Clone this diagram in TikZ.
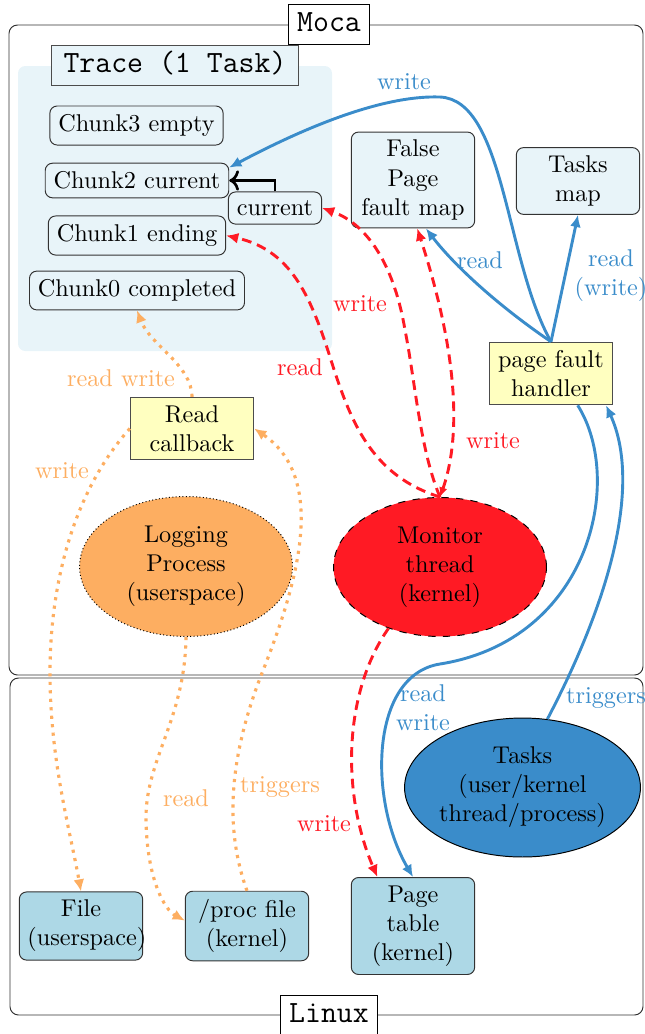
\documentclass[tikz,border=0pt]{standalone}
\usepackage{fontspec}
\usetikzlibrary{arrows.meta,shapes.geometric}
\definecolor{tracebg}{RGB}{232,244,249}
\definecolor{fileblue}{RGB}{173,216,230}
\definecolor{cbyellow}{RGB}{255,255,192}
\definecolor{logorange}{RGB}{253,174,97}
\definecolor{monred}{RGB}{255,26,36}
\definecolor{taskblue}{RGB}{58,140,202}
\begin{document}
\begin{tikzpicture}[x=0.41237pt,y=-0.41237pt,
  chunk/.style={draw=black!80, fill=tracebg, rounded corners=3pt, inner sep=3.5pt},
  infobox/.style={draw=black!80, fill=tracebg, rounded corners=3pt, text width=44.2pt, align=center},
  yellowbox/.style={draw=black!70, fill=cbyellow, text width=44.2pt, align=center},
  kbox/.style={draw=black!80, fill=fileblue, rounded corners=3pt, text width=44.2pt, align=center},
  tag/.style={draw=black, fill=white, font=\fontsize{12.75}{15}\selectfont\ttfamily, text height=9pt, text depth=2.5pt, inner ysep=2.5pt, inner xsep=3.5pt},
  ell/.style={ellipse, align=center, inner sep=0pt},
  tipp/.style={-{Latex[length=5pt,width=4.5pt]}},
  blueline/.style={draw=taskblue, line width=1.2pt, tipp},
  redline/.style={draw=monred, line width=1.2pt, dash pattern=on 4pt off 2.5pt, tipp},
  orangeline/.style={draw=logorange, line width=1.3pt, dash pattern=on 1.3pt off 2.2pt, tipp},
  bluelbl/.style={text=taskblue, inner sep=1pt},
  redlbl/.style={text=monred, inner sep=1pt},
  orangelbl/.style={text=logorange, inner sep=1pt},
  frame/.style={draw=black!80, rounded corners=3.5pt}
]
\useasboundingbox (0,0) rectangle (645,1034);
\begin{scope}
\clip (0,0) rectangle (645,1034);
% outer frames
\draw[frame] (9,25) rectangle (643,675);
\draw[frame] (10,678) rectangle (643,1015);
\end{scope}
% trace region
\fill[tracebg, rounded corners=3pt] (18,66) rectangle (332,351);

% frame labels
\node[tag] (moca) at (329,24) {Moca};
\node[tag] (linux) at (329,1015) {Linux};
\node[tag, fill=tracebg, draw=black!70, inner xsep=5pt] (trace) at (175,65) {Trace (1 Task)};

% trace chunks
\node[chunk] (chunk3) at (136.5,125.5) {Chunk3 empty};
\node[chunk] (chunk2) at (137,180.5) {Chunk2 current};
\node[chunk] (cur) at (275,208) {current};
\node[chunk] (chunk1) at (137,235.5) {Chunk1 ending};
\node[chunk] (chunk0) at (137,290.5) {Chunk0 completed};

% maps and handlers
\node[infobox] (fpfm) at (413,180) {False Page fault map};
\node[infobox] (tmap) at (578,181) {Tasks map};
\node[yellowbox] (pfh) at (551,373.5) {page fault handler};
\node[yellowbox] (rcb) at (192,428.5) {Read callback};

% ellipses
\node[ell, fill=logorange, draw=black, densely dotted, minimum width=87.8pt, minimum height=57.7pt] (log) at (186,566.5) {Logging\\Process\\(userspace)};
\node[ell, fill=monred, draw=black, dashed, minimum width=87.8pt, minimum height=57.3pt] (mon) at (440,567) {Monitor\\thread\\(kernel)};
\node[ell, fill=taskblue, draw=black, minimum width=95.3pt, minimum height=57.3pt] (tasks) at (522.5,787.5) {Tasks\\(user/kernel\\thread/process)};

% linux boxes
\node[kbox] (file) at (81,926) {File (userspace)};
\node[kbox] (proc) at (247,926) {/proc file (kernel)};
\node[kbox] (ptab) at (413,926) {Page table (kernel)};

% black pointer
\draw[line width=1.1pt, ->] (cur.north) |- (chunk2.east);

% blue connectors
\draw[blueline] (pfh.north) .. controls (505,260) and (505,100) .. (440,97) .. controls (380,95) and (300,130) .. (chunk2.8);
\draw[blueline] (pfh.north) .. controls (490,300) and (450,260) .. (fpfm.-75);
\draw[blueline] (pfh.north) -- (tmap.south);
\draw[blueline] (pfh.-50) .. controls (625,480) and (590,640) .. (440,664) .. controls (370,675) and (368,800) .. (ptab.north);
\draw[blueline] (tasks.70) .. controls (615,590) and (640,480) .. (pfh.-30);

% red connectors
\draw[redline] (mon.north) .. controls (420,450) and (415,380) .. (405,330) .. controls (395,270) and (370,225) .. (cur.east);
\draw[redline] (mon.north) .. controls (370,475) and (350,420) .. (330,357) .. controls (310,294) and (290,250) .. (chunk1.east);
\draw[redline, {Latex[length=4pt,width=3.5pt]}-{Latex[length=5pt,width=4.5pt]}] (mon.north) .. controls (460,440) and (460,360) .. (fpfm.-85);
\draw[redline] (mon.-130) .. controls (345,690) and (340,790) .. (ptab.126);

% orange connectors
\draw[orangeline] (rcb.north) .. controls (192,365) and (150,345) .. (chunk0.south);
\draw[orangeline] (rcb.west) .. controls (75,490) and (50,580) .. (50,673) .. controls (50,760) and (70,830) .. (file.north);
\draw[orangeline] (log.south) .. controls (185,720) and (145,760) .. (146,820) .. controls (147,880) and (165,910) .. (proc.175);
\draw[orangeline] (proc.north) .. controls (225,830) and (228,760) .. (262,673) .. controls (295,590) and (330,480) .. (rcb.east);

% labels
\node[bluelbl] (lw1) at (404,82) {write};
\node[bluelbl] (lr1) at (480,260) {read};
\node[bluelbl, align=center] (lrw1) at (611,276) {read\\(write)};
\node[bluelbl, align=center] (lrw2) at (423,708) {read\\write};
\node[bluelbl] (ltr1) at (606,698) {triggers};
\node[redlbl] (lw2) at (360,304) {write};
\node[redlbl] (lr2) at (300,367) {read};
\node[redlbl] (lw3) at (493,441) {write};
\node[redlbl] (lw4) at (324,824) {write};
\node[orangelbl] (lrw3) at (121,378) {read write};
\node[orangelbl] (lw5) at (62,471) {write};
\node[orangelbl] (lr3) at (186,798) {read};
\node[orangelbl] (ltr2) at (280,787) {triggers};
\end{tikzpicture}
\end{document}
